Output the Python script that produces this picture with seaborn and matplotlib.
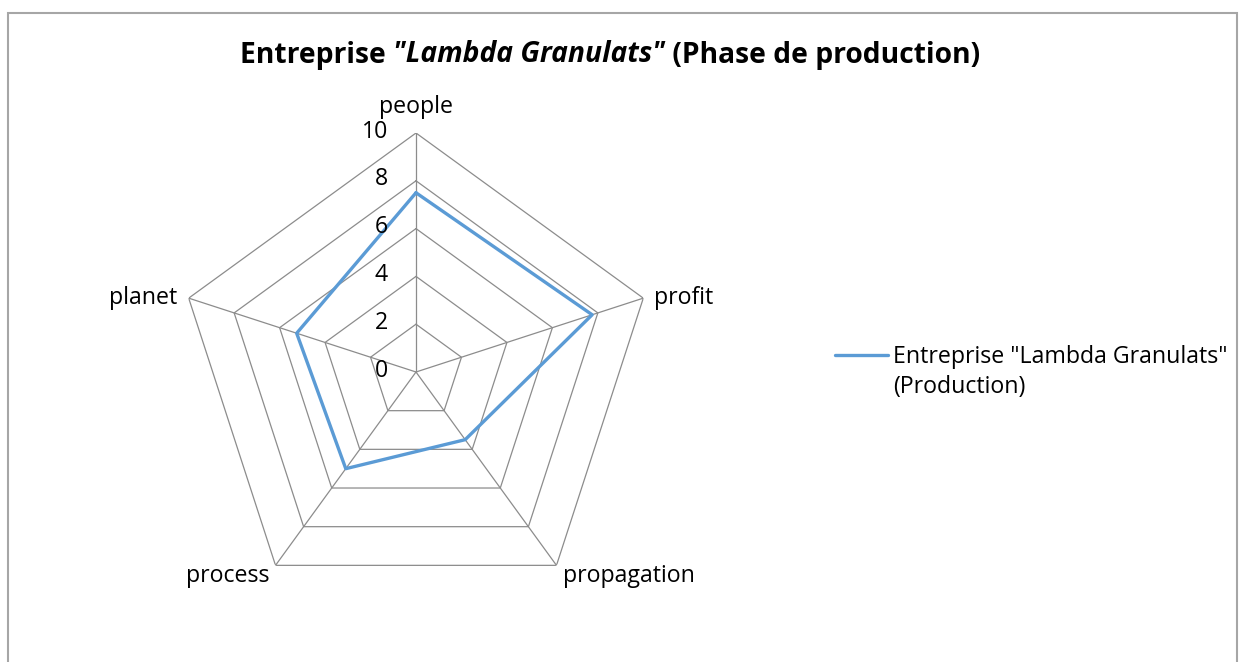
import numpy as np
import matplotlib
matplotlib.use("Agg")
import matplotlib.pyplot as plt
import seaborn as sns
from matplotlib.patches import Rectangle
from matplotlib.lines import Line2D
from matplotlib.offsetbox import TextArea, HPacker, AnchoredOffsetbox

categories = ["people", "profit", "propagation", "process", "planet"]
values = [7.5, 7.75, 3.5, 5.0, 5.25]
ticks = [0, 2, 4, 6, 8, 10]
series_lines = ['Entreprise "Lambda Granulats"', "(Production)"]
title_parts = ["Entreprise ", '"Lambda Granulats"', " (Phase de production)"]

sns.set_theme(style="white")
plt.rcParams["font.family"] = ["Open Sans", "DejaVu Sans"]
plt.rcParams["text.color"] = "#000000"

W, H = 1244, 662
FS = 16.7
fig = plt.figure(figsize=(W / 100, H / 100), dpi=100)
fig.patch.set_facecolor("white")

cx, cy, R = 416, 372, 239
ax = fig.add_axes([(cx - R) / W, (H - cy - R) / H, 2 * R / W, 2 * R / H], projection="polar")
ax.set_theta_offset(np.pi / 2)
ax.set_theta_direction(-1)
ax.set_ylim(0, 10)
ax.grid(False)
ax.spines["polar"].set_visible(False)
ax.set_xticks([])
ax.set_yticks([])
ax.patch.set_alpha(0)

n = len(categories)
angles = np.linspace(0, 2 * np.pi, n, endpoint=False)
closed_ang = np.append(angles, 2 * np.pi)

grid_col = "#8c8c8c"
for t in ticks[1:]:
    ax.plot(closed_ang, [t] * (n + 1), color=grid_col, lw=0.9, zorder=1)
for a in angles:
    ax.plot([a, a], [0, ticks[-1]], color=grid_col, lw=0.9, zorder=1)

line_color = "#5B9BD5"
sns.lineplot(x=closed_ang, y=values + [values[0]], ax=ax, sort=False,
             color=line_color, lw=2.4, zorder=3, legend=False)

for t in ticks:
    ax.annotate(str(t), xy=(0, t), xytext=(-20, 1), textcoords="offset points",
                ha="right", va="center", fontsize=FS, color="#000000",
                annotation_clip=False)

offsets = {"people": (0, 19, "center", "center"),
           "profit": (8, 0, "left", "center"),
           "propagation": (4.5, -7.6, "left", "center"),
           "process": (-4, -7.6, "right", "center"),
           "planet": (-8, 0, "right", "center")}
for a, c in zip(angles, categories):
    dx, dy, ha, va = offsets[c]
    ax.annotate(c, xy=(a, 10), xytext=(dx, dy), textcoords="offset points",
                ha=ha, va=va, fontsize=FS, color="#000000", annotation_clip=False)

handles = [Line2D([], [], color=line_color, lw=2.4, solid_capstyle="round"),
           Line2D([], [], color="none")]
leg = fig.legend(handles, series_lines, loc="center left",
                 bbox_to_anchor=(835 / W, 1 - 372 / H), frameon=False, fontsize=FS,
                 handlelength=2.3, handletextpad=0.22, borderpad=0, borderaxespad=0,
                 labelspacing=0.25)
for txt in leg.get_texts():
    txt.set_color("#000000")

parts = []
for i, p in enumerate(title_parts):
    parts.append(TextArea(p, textprops=dict(fontsize=20.3, fontweight="bold",
                                            fontstyle="italic" if i == 1 else "normal",
                                            color="#000000")))
box = HPacker(children=parts, align="baseline", pad=0, sep=0)
ab = AnchoredOffsetbox(loc="center", child=box, frameon=False,
                       bbox_to_anchor=(610 / W, 1 - 55 / H), bbox_transform=fig.transFigure,
                       pad=0, borderpad=0)
fig.add_artist(ab)

fig.add_artist(Rectangle((8 / W, -0.05), (1237 - 8) / W, (H - 13) / H + 0.05,
                         transform=fig.transFigure, fill=False, edgecolor="#A6A6A6", lw=1.5))

fig.savefig("out.png", dpi=100, facecolor="white")
